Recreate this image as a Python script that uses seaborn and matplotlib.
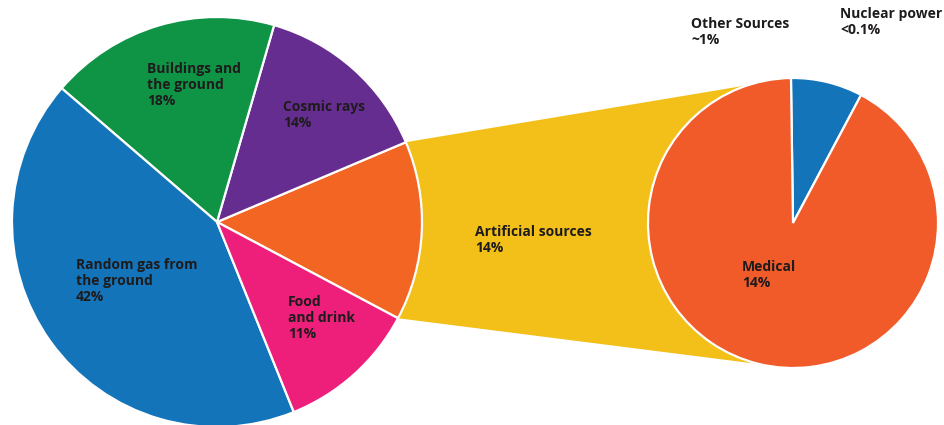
import numpy as np
import matplotlib
matplotlib.use("Agg")
import matplotlib.pyplot as plt
import seaborn as sns
from matplotlib.patches import Polygon

# data
left_labels = ["Artificial sources", "Cosmic rays", "Buildings and\nthe ground",
               "Random gas from\nthe ground", "Food\nand drink"]
left_values = [14, 14, 18, 42, 11]
left_colors = ["#F26522", "#662D91", "#0F9446", "#1374BA", "#ED1F7A"]

right_labels = ["Other Sources", "Medical"]
right_values = [8, 92]
right_colors = ["#1374BA", "#F15A29"]

annot_labels = ["Other Sources\n~1%", "Nuclear power\n<0.1%"]
medical_text = "Medical\n14%"

sns.set_theme(style="white")
plt.rcParams['font.family'] = ["Open Sans", "DejaVu Sans"]

W, H = 944, 425
fig = plt.figure(figsize=(W / 100, H / 100), dpi=100)
ax = fig.add_axes([0, 0, 1, 1])

# left pie
lc, lr = (217, 203), 205
lw, _ = ax.pie(left_values, colors=left_colors, startangle=-28, counterclock=True,
               center=lc, radius=lr,
               wedgeprops=dict(edgecolor="white", linewidth=1.6))

# right pie
rc, rr = (793, 202), 145
rw, _ = ax.pie(right_values, colors=right_colors, startangle=62, counterclock=True,
               center=rc, radius=rr,
               wedgeprops=dict(edgecolor="white", linewidth=1.6))

# yellow connector from the artificial slice to the right pie
art = lw[0]
def on_circle(c, r, ang):
    a = np.deg2rad(ang)
    return (c[0] + r * np.cos(a), c[1] + r * np.sin(a))

poly = Polygon([on_circle(lc, lr, art.theta2), on_circle(rc, rr, 108),
                on_circle(rc, rr, -103), on_circle(lc, lr, art.theta1)],
               closed=True, facecolor="#F2C019", edgecolor="none", zorder=0.5)
ax.add_patch(poly)

# labels
txt = dict(fontsize=10, fontweight="bold", color="#1E1B1C", ha="left", va="top",
           linespacing=1.2)
def put(x, y, s):
    ax.text(x, H - y, s, **txt)

left_pos = [(475, 225), (283, 100), (147, 62), (76, 258), (288, 295)]
for (x, y), lab, v in zip(left_pos, left_labels, left_values):
    put(x, y, f"{lab}\n{v}%")

put(742, 260, medical_text)
put(691, 17, annot_labels[0])
put(840, 7, annot_labels[1])

ax.set_xlim(0, W)
ax.set_ylim(0, H)
ax.set_aspect("equal")
ax.axis("off")

fig.savefig("out.png", dpi=100)
